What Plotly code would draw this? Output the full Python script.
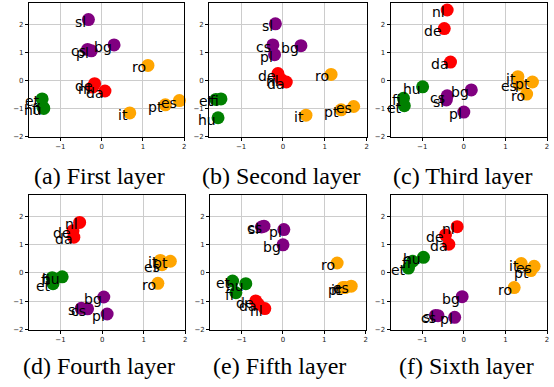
import plotly.graph_objects as go

LANGS = ["bg", "cs", "da", "de", "es", "et", "fi", "hu", "it", "nl", "pl", "pt", "ro", "sl"]
GROUP_COLOR = {
    "bg": "#800080", "cs": "#800080", "pl": "#800080", "sl": "#800080",
    "da": "#ff0000", "de": "#ff0000", "nl": "#ff0000",
    "et": "#008000", "fi": "#008000", "hu": "#008000",
    "es": "#ffa500", "it": "#ffa500", "pt": "#ffa500", "ro": "#ffa500",
}

#            bg     cs     da     de     es     et     fi     hu     it     nl     pl     pt     ro     sl
L1_X = [0.30, -0.34, 0.08, -0.17, 1.88, -1.44, -1.42, -1.40, 0.68, -0.22, -0.25, 1.54, 1.12, -0.32]
L1_Y = [1.26, 1.10, -0.38, -0.12, -0.72, -0.66, -0.95, -1.00, -1.16, -0.24, 1.05, -0.87, 0.53, 2.16]
L2_X = [0.43, -0.24, 0.08, -0.12, 1.69, -1.60, -1.48, -1.55, 0.55, -0.04, -0.20, 1.39, 1.15, -0.18]
L2_Y = [1.23, 1.26, -0.06, 0.24, -0.93, -0.68, -0.66, -1.33, -1.24, 0.03, 0.91, -1.05, 0.21, 2.01]
L3_X = [0.18, -0.40, -0.32, -0.47, 1.33, -1.43, -1.45, -0.99, 1.30, -0.40, 0.00, 1.65, 1.51, -0.42]
L3_Y = [-0.34, -0.55, 0.65, 1.84, -0.14, -0.90, -0.64, -0.23, 0.13, 2.50, -1.13, -0.06, -0.49, -0.70]
L4_X = [0.04, -0.35, -0.68, -0.70, 1.44, -1.18, -1.20, -0.96, 1.40, -0.54, 0.12, 1.64, 1.34, -0.50]
L4_Y = [-0.85, -1.27, 1.26, 1.49, 0.29, -0.38, -0.17, -0.14, 0.44, 1.78, -1.45, 0.41, -0.37, -1.25]
L5_X = [0.00, -0.46, -0.60, -0.66, 1.65, -1.22, -1.14, -0.90, 1.45, -0.44, 0.02, 1.50, 1.31, -0.52]
L5_Y = [0.99, 1.65, -1.10, -0.99, -0.47, -0.29, -0.70, -0.38, -0.52, -1.26, 1.53, -0.52, 0.35, 1.62]
L6_X = [-0.04, -0.62, -0.36, -0.44, 1.69, -1.33, -1.23, -0.97, 1.38, -0.16, -0.22, 1.61, 1.21, -0.68]
L6_Y = [-0.84, -1.51, 1.01, 1.34, 0.23, 0.17, 0.41, 0.55, 0.33, 1.63, -1.57, 0.08, -0.52, -1.50]

CAPTIONS = ["(a) First layer", "(b) Second layer", "(c) Third layer",
            "(d) Fourth layer", "(e) Fifth layer", "(f) Sixth layer"]
X_TICKS = [-1, 0, 1, 2]
Y_TICKS = [-2, -1, 0, 1, 2]

layers = [(L1_X, L1_Y), (L2_X, L2_Y), (L3_X, L3_Y), (L4_X, L4_Y), (L5_X, L5_Y), (L6_X, L6_Y)]

W, H = 554, 387
x_doms_px = [[(29, 185), (210, 368), (392, 549)], [(29, 186), (211, 367), (392, 549)]]
y_doms_px = [(3, 138), (197, 333)]
cap_x_px = [[100, 283, 465], [99, 281, 468]]
cap_y_px = [178, 370]

fig = go.Figure()
annotations = []
for i, (lx, ly) in enumerate(layers):
    r, c = divmod(i, 3)
    n = i + 1
    xa = "x" if n == 1 else f"x{n}"
    ya = "y" if n == 1 else f"y{n}"
    fig.add_trace(go.Scatter(
        x=lx, y=ly, mode="markers", xaxis=xa, yaxis=ya,
        marker=dict(size=13, color=[GROUP_COLOR[l] for l in LANGS], line=dict(width=0)),
        showlegend=False, hoverinfo="text", text=LANGS, cliponaxis=False,
    ))
    for lang, px, py in zip(LANGS, lx, ly):
        annotations.append(dict(
            x=px, y=py, xref=xa, yref=ya, text=lang, showarrow=False,
            xanchor="right", yanchor="middle", yshift=-2,
            font=dict(family="DejaVu Sans", size=14, color="black"),
        ))
    x0, x1 = x_doms_px[r][c]
    yt, yb = y_doms_px[r]
    axkey = "xaxis" if n == 1 else f"xaxis{n}"
    aykey = "yaxis" if n == 1 else f"yaxis{n}"
    common = dict(
        showgrid=True, gridcolor="#cccccc", gridwidth=1, zeroline=False,
        showline=True, linecolor="black", linewidth=1, mirror=True,
        ticks="outside", ticklen=3, tickwidth=1, tickcolor="black",
        tickfont=dict(family="DejaVu Sans", size=7, color="#222222"),
    )
    fig.update_layout({
        axkey: dict(domain=[x0 / W, x1 / W], range=[-1.76, 2.0], tickvals=X_TICKS,
                    anchor=ya, **common),
        aykey: dict(domain=[1 - yb / H, 1 - yt / H], range=[-2.0, 2.75], tickvals=Y_TICKS,
                    anchor=xa, **common),
    })
    annotations.append(dict(
        x=cap_x_px[r][c] / W, y=1 - cap_y_px[r] / H, xref="paper", yref="paper",
        text=CAPTIONS[i], showarrow=False, xanchor="center", yanchor="middle",
        font=dict(family="Liberation Serif", size=24, color="black"),
    ))

fig.update_layout(
    width=W, height=H, margin=dict(l=0, r=0, t=0, b=0),
    paper_bgcolor="white", plot_bgcolor="white",
    annotations=annotations,
)
fig.write_html("out.html")
